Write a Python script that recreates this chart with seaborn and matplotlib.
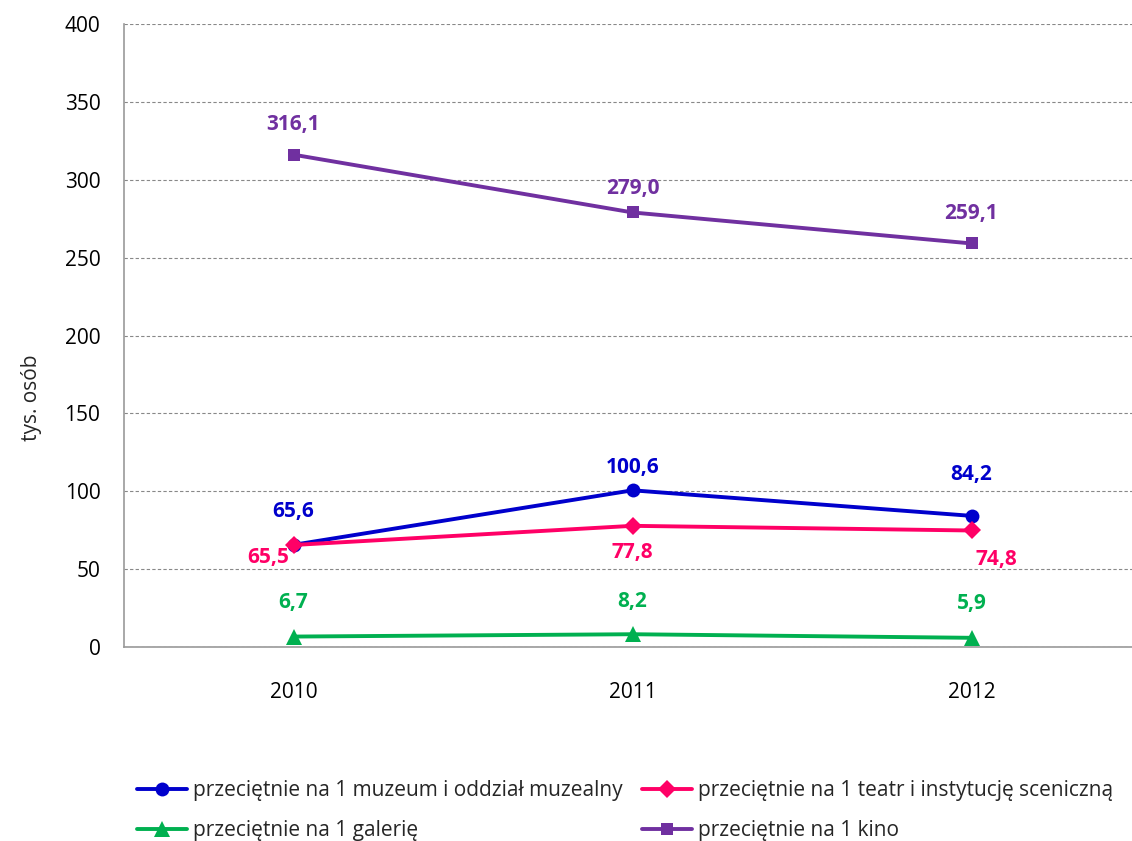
import pandas as pd
import matplotlib
matplotlib.use("Agg")
import matplotlib.pyplot as plt
import seaborn as sns

# data
years = [2010, 2011, 2012]
series_names = [
    "przeciętnie na 1 muzeum i oddział muzealny",
    "przeciętnie na 1 teatr i instytucję sceniczną",
    "przeciętnie na 1 galerię",
    "przeciętnie na 1 kino",
]
muzeum = [65.6, 100.6, 84.2]
teatr = [65.5, 77.8, 74.8]
galeria = [6.7, 8.2, 5.9]
kino = [316.1, 279.0, 259.1]

colors = ["#0000CC", "#FF0066", "#00B050", "#7030A0"]
markers = ["o", "D", "^", "s"]
msizes = [10, 9, 11, 8]

# label offsets in pixels (dx, dy) per series, per point
offsets = [
    [(0, 33), (0, 23), (0, 41)],
    [(-25, -13), (0, -27), (25, -29)],
    [(0, 34), (0, 33), (0, 34)],
    [(0, 30), (0, 24), (0, 30)],
]

values = [muzeum, teatr, galeria, kino]
rows = []
for name, vals in zip(series_names, values):
    for y, v in zip(years, vals):
        rows.append({"rok": y, "wartosc": v, "seria": name})
df = pd.DataFrame(rows)

sns.set_style("white")
plt.rcParams["font.family"] = ["Open Sans", "DejaVu Sans"]

fig = plt.figure(figsize=(11.32, 8.41), dpi=100)
ax = fig.add_axes([124 / 1132, 1 - 647 / 841, 1017 / 1132, (647 - 24) / 841])

sns.lineplot(data=df, x="rok", y="wartosc", hue="seria", style="seria",
             hue_order=series_names, style_order=series_names,
             palette=colors, markers=dict(zip(series_names, markers)),
             dashes=False, linewidth=2.8, markersize=10,
             markeredgewidth=0, legend=False, ax=ax, zorder=3)

# adjust marker sizes per series
for line, ms in zip(ax.get_lines(), msizes):
    line.set_markersize(ms)

for vals, col, offs in zip(values, colors, offsets):
    for y, v, (dx, dy) in zip(years, vals, offs):
        ax.annotate(f"{v:.1f}".replace(".", ","), (y, v),
                    xytext=(dx, dy), textcoords="offset pixels",
                    ha="center", va="center", color=col,
                    fontsize=15, fontweight="bold")

ax.set_xlim(2009.5, 2012.5)
ax.set_ylim(0, 400)
ax.set_xticks(years)
ax.set_xticklabels([str(y) for y in years])
ax.set_yticks(range(0, 401, 50))
ax.tick_params(axis="both", labelsize=15, colors="#000000", length=0)
ax.tick_params(axis="x", pad=25)
ax.tick_params(axis="y", pad=17)
ax.grid(axis="y", linestyle=(0, (3, 2)), color="#888888", linewidth=0.8)
ax.grid(axis="x", visible=False)
for s in ["top", "right"]:
    ax.spines[s].set_visible(False)
for s in ["left", "bottom"]:
    ax.spines[s].set_color("#999999")
    ax.spines[s].set_linewidth(1.2)
ax.set_xlabel("")
ax.set_ylabel("tys. osób", fontsize=15)
ax.yaxis.set_label_coords(-0.081, 0.40)

handles = [plt.Line2D([], [], color=c, marker=m, markersize=ms, linewidth=2.8,
                      markeredgewidth=0)
           for c, m, ms in zip(colors, markers, msizes)]
order = [0, 2, 1, 3]  # legend fills by column, reference reads by row
fig.legend([handles[i] for i in order], [series_names[i] for i in order],
           loc="center left", ncol=2,
           bbox_to_anchor=(124 / 1132 - 0.005, 0.036), frameon=False,
           fontsize=15, handlelength=2.4, handletextpad=0.3,
           columnspacing=0.9, labelspacing=0.9)

fig.savefig("out.png", dpi=100)
